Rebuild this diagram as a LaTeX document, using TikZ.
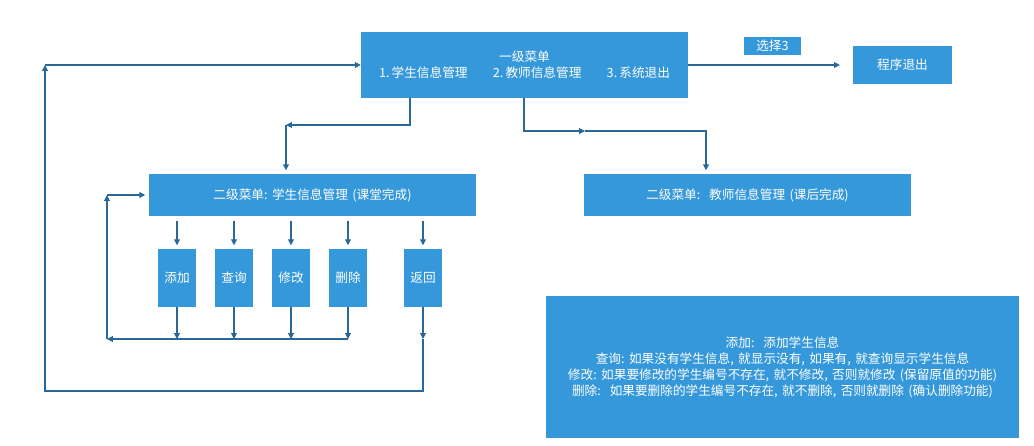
\documentclass[tikz,border=0pt]{standalone}
\usepackage{fontspec}
\newfontfamily\cjk{Noto Sans CJK SC}
\usetikzlibrary{arrows.meta,positioning}
\definecolor{boxblue}{RGB}{53,152,219}
\definecolor{lineblue}{RGB}{41,104,153}
\newcommand\gp{\hspace{0.35em}}
\begin{document}
\begin{tikzpicture}[x=0.03cm,y=-0.03cm,
every node/.style={fill=boxblue,text=white,inner sep=0pt,align=center,
  font=\cjk\fontsize{10.8}{13.7}\selectfont},
flow/.style={draw=lineblue,line width=0.9pt,-{Triangle[width=5pt,length=5pt]}}]
\useasboundingbox (0,0) rectangle (1034,445);
\node[minimum width=9.81cm,minimum height=1.98cm] (menu1) at (524.5,65)
  {一级菜单\\1.\,学生信息管理\hspace{2em}2.\,教师信息管理\hspace{2em}3.\,系统退出};
\node[minimum width=1.71cm,minimum height=0.54cm] (choose3) at (772.5,46) {选择3};
\node[minimum width=2.97cm,minimum height=1.14cm] (exit) at (902.5,65) {程序退出};
\node[minimum width=9.81cm,minimum height=1.26cm] (stu) at (312.5,195) {二级菜单:\gp 学生信息管理\gp(课堂完成)};
\node[minimum width=9.81cm,minimum height=1.26cm] (tea) at (747.5,195) {二级菜单:\gp\gp 教师信息管理\gp(课后完成)};
\node[minimum width=1.16cm,minimum height=1.74cm] (add) at (177,278) {添加};
\node[minimum width=1.16cm,minimum height=1.74cm] (query) at (234,278) {查询};
\node[minimum width=1.16cm,minimum height=1.74cm] (modify) at (291,278) {修改};
\node[minimum width=1.16cm,minimum height=1.74cm] (delete) at (348,278) {删除};
\node[minimum width=1.16cm,minimum height=1.74cm] (back) at (423,278) {返回};
\node[minimum width=14.19cm,minimum height=4.26cm] (note) at (782.5,367)
  {添加:\gp\gp 添加学生信息\\
   查询:\gp 如果没有学生信息,\gp 就显示没有,\gp 如果有,\gp 就查询显示学生信息\\
   修改:\gp 如果要修改的学生编号不存在,\gp 就不修改,\gp 否则就修改\gp(保留原值的功能)\\
   删除:\gp\gp 如果要删除的学生编号不存在,\gp 就不删除,\gp 否则就删除\gp(确认删除功能)};
% corners
\coordinate (m1) at (410,125);
\coordinate (m2) at (286,125);
\coordinate (t1) at (524,131);
\coordinate (t2) at (585,131);
\coordinate (t3) at (706,131);
\coordinate (l1) at (107,339);
\coordinate (l2) at (107,195);
\coordinate (b1) at (423,391);
\coordinate (b2) at (45,391);
\coordinate (b3) at (45,65);
\draw[flow,shorten >=11pt] (menu1.east) -- (exit.west);
\draw[flow] (menu1.south -| m1) -- (m1) -- (m2);
\draw[flow,shorten >=3pt] (m2) -- (m2 |- stu.north);
\draw[flow] (menu1.south -| t1) -- (t1) -- (t2);
\draw[flow,shorten >=3pt] (t2) -- (t3) -- (t3 |- tea.north);
\foreach \n in {add,query,modify,delete,back}
  \draw[flow,shorten <=4pt,shorten >=3pt] (\n.north |- stu.south) -- (\n.north);
\foreach \n in {add,query,modify,delete}
  \draw[flow] (\n.south) -- (\n.south |- l1);
\draw[flow] (delete.south |- l1) -- (l1);
\draw[flow] (l1) -- (l2);
\draw[flow,shorten >=3pt] (l2) -- (stu.west);
\draw[flow] (back.south) -- (back.south |- l1);
\draw[flow] (back.south |- l1) -- (b1) -- (b2) -- (b3);
\draw[flow] (b3) -- (menu1.west);
\end{tikzpicture}
\end{document}
